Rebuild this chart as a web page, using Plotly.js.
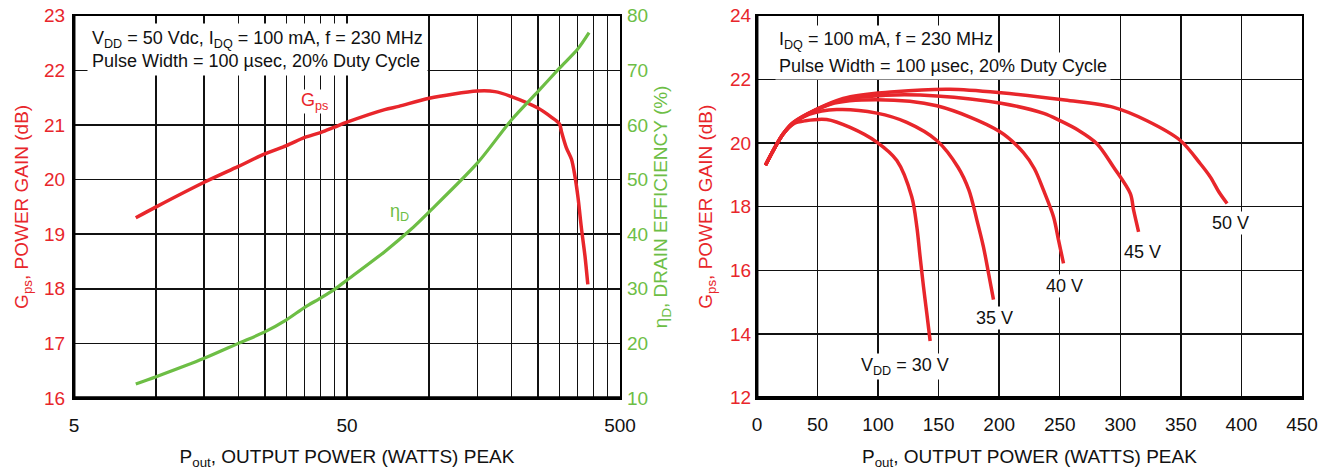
<!DOCTYPE html>
<html><head><meta charset="utf-8">
<script src="https://cdn.plot.ly/plotly-3.0.1.min.js"></script>
<style>html,body{margin:0;padding:0;background:#fff}#chart{width:1328px;height:470px}</style>
</head><body><div id="chart"></div>
<script>
// ---- Left chart data (VDD = 50 V) ----
const gainPout = [8.42, 10, 15, 20, 25, 30, 35, 40, 45, 50, 68.7, 77.4, 100, 150, 174, 200, 250, 280.7, 300, 305, 318, 332, 341, 351, 361, 372, 381];
const gainDb   = [19.30, 19.50, 19.95, 20.24, 20.47, 20.62, 20.77, 20.86, 20.96, 21.05, 21.28, 21.34, 21.49, 21.62, 21.61, 21.52, 21.31, 21.14, 21.02, 20.88, 20.58, 20.37, 20.09, 19.66, 19.11, 18.60, 18.08];
const effPout  = [8.42, 10, 15, 20, 25, 30, 35, 40, 45, 50, 68.7, 85.4, 100, 150, 200, 250, 300, 350, 385];
const effPct   = [12.56, 13.9, 17.27, 20.0, 22.1, 24.3, 26.6, 28.3, 29.9, 31.6, 36.8, 40.8, 44.1, 53.0, 60.9, 66.1, 70.4, 73.9, 76.9];
const logTickVals  = [5, 50, 500];
const logTickText  = ['5', '50', '500'];
const logMinorVals = [10,15,20,25,30,35,40,45,100,150,200,250,300,350,400,450];

// ---- Right chart data (gain vs Pout for several VDD) ----
const vddLabels = ['V<sub>DD</sub> = 30 V', '35 V', '40 V', '45 V', '50 V'];
const p30 = [7, 13.5, 21.7, 30, 40, 57.6, 76.9, 98.9, 115.5, 127.8, 132, 134.7, 137.5, 140.2, 143];
const g30 = [19.30, 19.77, 20.29, 20.60, 20.70, 20.74, 20.49, 20.03, 19.45, 18.31, 17.37, 16.43, 15.49, 14.66, 13.78];
const p35 = [7, 13.5, 21.7, 30, 43, 65.8, 98.9, 123.7, 148.5, 166, 175, 181.6, 187, 191.2, 195.3];
const g35 = [19.30, 19.77, 20.29, 20.62, 20.90, 21.05, 20.94, 20.65, 20.08, 19.24, 18.52, 17.58, 16.74, 15.91, 15.08];
const p40 = [7, 13.5, 21.7, 30, 60.6, 98.9, 148.5, 200, 220, 229, 236.6, 244.9, 249, 253.1];
const g40 = [19.30, 19.77, 20.29, 20.63, 21.22, 21.36, 21.17, 20.37, 19.70, 19.20, 18.52, 17.68, 16.95, 16.22];
const p45 = [7, 13.5, 21.7, 30, 67.7, 106.4, 148.5, 201.5, 236.8, 250.4, 265, 280.7, 294.5, 308.3, 311, 315.1];
const g45 = [19.30, 19.77, 20.29, 20.64, 21.33, 21.50, 21.48, 21.25, 20.93, 20.70, 20.41, 19.98, 19.24, 18.41, 17.89, 17.21];
const p50 = [7, 13.5, 21.7, 30, 71.2, 113.5, 159.3, 201.5, 254.4, 294.5, 322, 349.6, 366.1, 374.4, 381.3, 388.2];
const g50 = [19.30, 19.77, 20.29, 20.65, 21.40, 21.61, 21.69, 21.58, 21.35, 21.12, 20.70, 20.08, 19.35, 18.93, 18.47, 18.10];
const labelX = [122, 196, 253.7, 318.5, 390.8];
const labelY = [12.97, 14.49, 15.51, 16.59, 17.5];

const RED = '#e8262b', GREEN = '#6dbe45';
const FONT = 'Liberation Sans Narrow, Arial Narrow, Liberation Sans, Arial, sans-serif';

const rightSeries = [[p30,g30],[p35,g35],[p40,g40],[p45,g45],[p50,g50]];

const traces = [
  {x: gainPout, y: gainDb, xaxis:'x', yaxis:'y', mode:'lines', line:{color:RED, width:3.5, shape:'spline', smoothing:0.8}, hoverinfo:'skip'},
  {x: effPout, y: effPct, xaxis:'x', yaxis:'y2', mode:'lines', line:{color:GREEN, width:3.2, shape:'spline', smoothing:0.8}, hoverinfo:'skip'}
];
rightSeries.forEach(s => traces.push({x:s[0], y:s[1], xaxis:'x3', yaxis:'y3', mode:'lines', line:{color:RED, width:3.5, shape:'spline', smoothing:0.9}, hoverinfo:'skip'}));

const axCommon = {showgrid:true, gridcolor:'#111', gridwidth:1.5, showline:true, linecolor:'#000', linewidth:2, mirror:true, ticks:'', zeroline:false, fixedrange:true};

const annotations = [
  {xref:'x domain', yref:'y domain', x:0.024, y:0.98, xanchor:'left', yanchor:'top', align:'left', showarrow:false,
   text:'V<sub>DD</sub> = 50 Vdc, I<sub>DQ</sub> = 100 mA, f = 230 MHz<br>Pulse Width = 100 µsec, 20% Duty Cycle',
   font:{family:FONT, size:18, color:'#111'}, bgcolor:'#fff', borderpad:4},
  {xref:'x', yref:'y', x:Math.log10(37.9), y:21.43, showarrow:false, text:'G<sub>ps</sub>', font:{family:FONT, size:18, color:RED}, bgcolor:'#fff', borderpad:0},
  {xref:'x', yref:'y2', x:Math.log10(78), y:43.9, showarrow:false, text:'η<sub>D</sub>', font:{family:FONT, size:18, color:GREEN}},
  {xref:'x3 domain', yref:'y3 domain', x:0.033, y:0.975, xanchor:'left', yanchor:'top', align:'left', showarrow:false,
   text:'I<sub>DQ</sub> = 100 mA, f = 230 MHz', font:{family:FONT, size:18, color:'#111'}, bgcolor:'#fff', borderpad:3},
  {xref:'x3 domain', yref:'y3 domain', x:0.033, y:0.905, xanchor:'left', yanchor:'top', align:'left', showarrow:false,
   text:'Pulse Width = 100 µsec, 20% Duty Cycle', font:{family:FONT, size:18, color:'#111'}, bgcolor:'#fff', borderpad:3}
];
vddLabels.forEach((t,i) => annotations.push({xref:'x3', yref:'y3', x:labelX[i], y:labelY[i], showarrow:false, text:t,
  font:{family:FONT, size:18, color:'#111'}, bgcolor:'#fff', borderpad:1}));

const shapes = [
  {type:'line', xref:'x domain', yref:'y domain', x0:0, x1:1, y0:0, y1:0, line:{color:'#000', width:3.5}},
  {type:'line', xref:'x domain', yref:'y domain', x0:0, x1:0, y0:0, y1:1, line:{color:'#000', width:3}},
  {type:'line', xref:'x3 domain', yref:'y3 domain', x0:0, x1:1, y0:0, y1:0, line:{color:'#000', width:3.5}},
  {type:'line', xref:'x3 domain', yref:'y3 domain', x0:0, x1:0, y0:0, y1:1, line:{color:'#000', width:3}}
];

const layout = {
  width:1328, height:470, margin:{l:0,r:0,t:0,b:0}, paper_bgcolor:'#fff', plot_bgcolor:'#fff', showlegend:false,
  font:{family:FONT, size:19, color:'#111'},
  xaxis: Object.assign({}, axCommon, {type:'log', domain:[0.0557,0.4669], range:[Math.log10(5), Math.log10(500)],
    tickmode:'array', tickvals:logTickVals, ticktext:logTickText, anchor:'y', ticklabelstandoff:9,
    minor:{tickmode:'array', tickvals:logMinorVals, showgrid:true, gridcolor:'#111', gridwidth:1.5, ticks:''},
    title:{text:'P<sub>out</sub>, OUTPUT POWER (WATTS) PEAK', font:{family:FONT, size:19, color:'#111'}, standoff:17}}),
  yaxis: Object.assign({}, axCommon, {domain:[0.1532,0.9666], range:[16,23], dtick:1, tickfont:{color:RED}, anchor:'x', ticklabelstandoff:3,
    title:{text:'G<sub>ps</sub>, POWER GAIN (dB)', font:{family:FONT, size:19, color:RED}, standoff:10}}),
  yaxis2: {overlaying:'y', side:'right', anchor:'x', range:[10,80], dtick:10, showgrid:false, zeroline:false, showline:false, ticks:'',
    tickfont:{color:GREEN}, fixedrange:true, ticklabelstandoff:6,
    title:{text:'η<sub>D</sub>, DRAIN EFFICIENCY (%)', font:{family:FONT, size:19, color:GREEN}, standoff:6}},
  xaxis3: Object.assign({}, axCommon, {domain:[0.570,0.9804], range:[0,450], dtick:50, anchor:'y3', ticklabelstandoff:8,
    title:{text:'P<sub>out</sub>, OUTPUT POWER (WATTS) PEAK', font:{family:FONT, size:19, color:'#111'}, standoff:17}}),
  yaxis3: Object.assign({}, axCommon, {domain:[0.1538,0.9666], range:[12,24], dtick:2, tickfont:{color:RED}, anchor:'x3',
    title:{text:'G<sub>ps</sub>, POWER GAIN (dB)', font:{family:FONT, size:19, color:RED}, standoff:12}}),
  annotations: annotations,
  shapes: shapes
};
Plotly.newPlot('chart', traces, layout, {staticPlot:true, displayModeBar:false});
</script></body></html>
